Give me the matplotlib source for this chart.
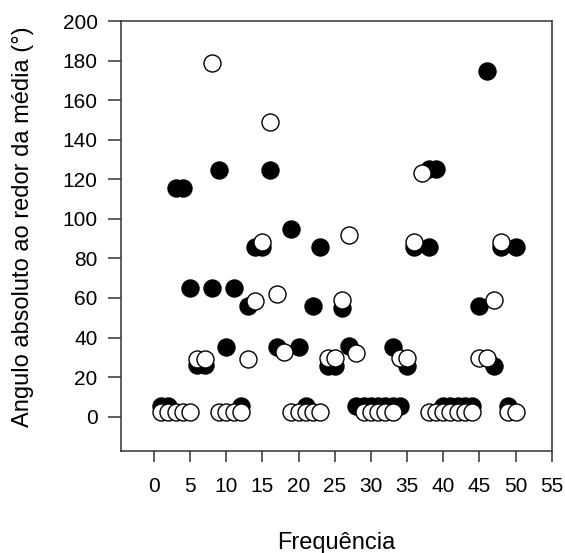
import matplotlib
matplotlib.use("Agg")
import matplotlib.pyplot as plt

plt.rcParams['font.family'] = ['Liberation Sans', 'DejaVu Sans']

# filled circles
black_x = [1, 2, 3, 4, 5, 6, 7, 8, 9, 10, 11, 12, 13, 14, 15, 16, 17, 19, 20,
           21, 22, 23, 24, 25, 26, 27, 28, 29, 30, 31, 32, 33, 34, 33, 35,
           36, 38, 38, 39, 40, 41, 42, 43, 44, 45, 46, 47, 48, 49, 50]
black_y = [5.5, 5.5, 115.5, 115.5, 65, 26, 26, 65, 125, 35, 65, 5.5, 56, 86, 86,
           125, 35, 95, 35, 5.5, 56, 86, 25.5, 25.5, 55, 35.5, 5.5, 5.5, 5.5,
           5.5, 5.5, 5.5, 5.5, 35, 25.5, 86, 86, 125.5, 125.5, 5.5, 5.5, 5.5,
           5.5, 5.5, 56, 175, 25.5, 86, 5.5, 86]

# open circles
white_x = list(range(1, 51))
white_y = [2.5, 2.5, 2.5, 2.5, 2.5, 29, 29, 179, 2.5, 2.5, 2.5, 2.5, 29, 58.5,
           88.5, 149, 62, 32.5, 2.5, 2.5, 2.5, 2.5, 2.5, 29.5, 29.5, 59, 92, 32,
           2.5, 2.5, 2.5, 2.5, 2.5, 29.5, 29.5, 88.5, 123, 2.5, 2.5, 2.5, 2.5,
           2.5, 2.5, 2.5, 29.5, 29.5, 59, 88.5, 2.5, 2.5]

xticks = list(range(0, 56, 5))
yticks = list(range(0, 201, 20))

fig = plt.figure(figsize=(5.65, 5.53), dpi=100)
ax = fig.add_axes([0.2136, 0.1845, 0.7629, 0.777])

ax.scatter(black_x, black_y, s=150, c='black', edgecolors='black', linewidths=1, zorder=3)
ax.scatter(white_x, white_y, s=150, c='white', edgecolors='black', linewidths=1, zorder=4)

ax.set_xlim(-4.6, 55)
ax.set_ylim(-17.4, 200)
ax.set_xticks(xticks)
ax.set_yticks(yticks)

for sp in ax.spines.values():
    sp.set_color('#333333')
    sp.set_linewidth(1.1)

ax.tick_params(axis='x', length=7.7, width=1.1, color='#333333', pad=11, labelsize=15)
ax.tick_params(axis='y', length=9.6, width=1.1, color='#333333', pad=7, labelsize=15)

ax.set_xlabel('Frequência', fontsize=17, labelpad=26)
ax.set_ylabel('Angulo absoluto ao redor da média (°)', fontsize=17)
ax.yaxis.set_label_coords(-0.2, 0.523)

fig.savefig('out.png', dpi=100)
